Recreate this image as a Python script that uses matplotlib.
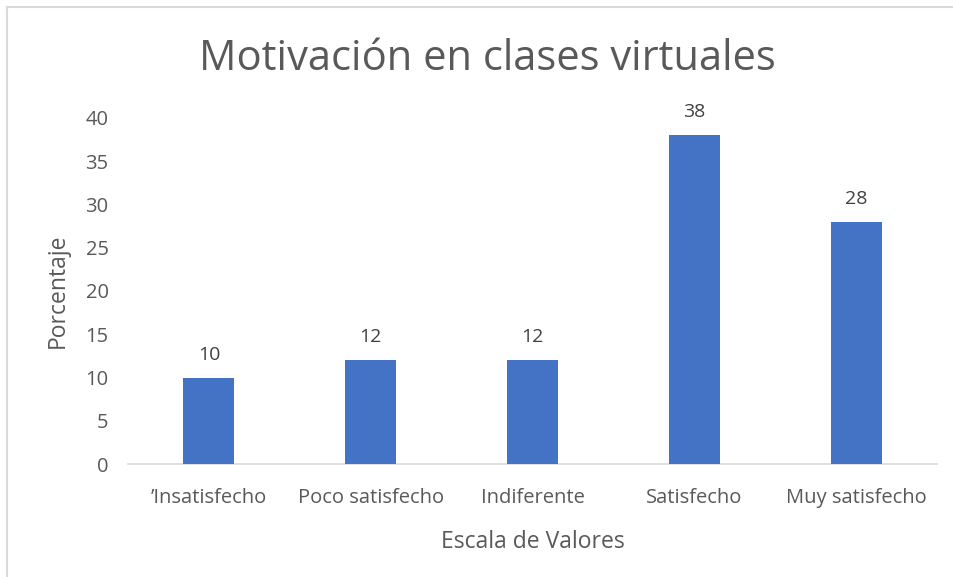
import matplotlib
matplotlib.use("Agg")
import matplotlib.pyplot as plt
from matplotlib.lines import Line2D

categories = ["’Insatisfecho", "Poco satisfecho", "Indiferente", "Satisfecho", "Muy satisfecho"]
values = [10, 12, 12, 38, 28]
yticks = [0, 5, 10, 15, 20, 25, 30, 35, 40]

plt.rcParams['font.family'] = ['Open Sans', 'DejaVu Sans']
txt = '#595959'

fig = plt.figure(figsize=(9.54, 5.77), dpi=100)
ax = fig.add_axes([128/954, 1-464/577, (937-128)/954, (464-118)/577])

x = list(range(len(categories)))
bars = ax.bar(x, values, width=0.315, color='#4472C4', zorder=3)
for xi, v in zip(x, values):
    ax.annotate(str(v), (xi, v), xytext=(0, 10), textcoords='offset points',
                ha='center', va='bottom', fontsize=14, color='#404040')

ax.set_xlim(-0.5, len(categories)-0.5)
ax.set_ylim(0, 40)
ax.set_yticks(yticks)
ax.set_xticks(x)
ax.set_xticklabels(categories)
ax.tick_params(axis='both', length=0, labelsize=14.5, colors=txt)
ax.tick_params(axis='x', pad=17)
ax.tick_params(axis='y', pad=14)
for s in ['top', 'right', 'left']:
    ax.spines[s].set_visible(False)
ax.spines['bottom'].set_color('#d9d9d9')
ax.spines['bottom'].set_linewidth(1.2)

ax.set_xlabel('Escala de Valores', fontsize=16.5, color=txt, labelpad=16)
ax.set_ylabel('Porcentaje', fontsize=16.5, color=txt, labelpad=11)

fig.text(487/954, 1-59/577, 'Motivación en clases virtuales', ha='center', va='center',
         fontsize=30, color=txt)

fig.add_artist(Line2D([7/954, 7/954], [0, 1-7/577], color='#d9d9d9', lw=1.5, transform=fig.transFigure))
fig.add_artist(Line2D([7/954, 1], [1-7/577, 1-7/577], color='#d9d9d9', lw=1.5, transform=fig.transFigure))

fig.savefig('out.png', dpi=100)
